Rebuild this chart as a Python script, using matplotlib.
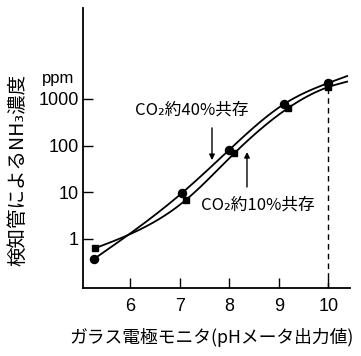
import numpy as np
import matplotlib
matplotlib.use("Agg")
import matplotlib.pyplot as plt
from matplotlib.transforms import blended_transform_factory

plt.rcParams['font.family'] = ['Noto Sans CJK JP', 'DejaVu Sans']

# Data (pH meter output vs NH3 concentration, ppm)
ph_40 = [5.27, 7.04, 8.00, 9.11, 10.00]
nh3_40 = [0.37, 9.5, 81, 780, 2200]
ph_10 = [5.29, 7.13, 8.10, 9.19, 10.00]
nh3_10 = [0.63, 6.9, 68, 640, 1800]
# curve end (line continues past last point)
curve_end_x = 10.38
curve_end_40 = 3100
curve_end_10 = 2350

xticks = [6, 7, 8, 9, 10]
yticks = [1, 10, 100, 1000]
ytick_labels = ['1', '10', '100', '1000']


def natural_spline(x, y, xs):
    x = np.asarray(x, float); y = np.asarray(y, float)
    n = len(x)
    h = np.diff(x)
    A = np.zeros((n, n)); b = np.zeros(n)
    A[0, 0] = 1; A[-1, -1] = 1
    for i in range(1, n - 1):
        A[i, i - 1] = h[i - 1]
        A[i, i] = 2 * (h[i - 1] + h[i])
        A[i, i + 1] = h[i]
        b[i] = 3 * ((y[i + 1] - y[i]) / h[i] - (y[i] - y[i - 1]) / h[i - 1])
    c = np.linalg.solve(A, b)
    out = np.empty_like(xs)
    for k, xv in enumerate(xs):
        i = min(max(np.searchsorted(x, xv) - 1, 0), n - 2)
        dx = xv - x[i]
        bi = (y[i + 1] - y[i]) / h[i] - h[i] * (2 * c[i] + c[i + 1]) / 3
        di = (c[i + 1] - c[i]) / (3 * h[i])
        out[k] = y[i] + bi * dx + c[i] * dx ** 2 + di * dx ** 3
    return out


fig = plt.figure(figsize=(3.61, 3.56), dpi=100)
ax = fig.add_axes([83 / 361, 1 - 288 / 356, 267 / 361, 280 / 356])
ax.set_yscale('log')
ax.set_xlim(5.052, 10.438)
ax.set_ylim(0.089, 89000)

for px, py, ex, ey, mk, ms in [(ph_40, nh3_40, curve_end_x, curve_end_40, 'o', 5.8),
                                (ph_10, nh3_10, curve_end_x, curve_end_10, 's', 5.0)]:
    cx = list(px) + [ex]
    cy = np.log10(list(py) + [ey])
    xs = np.linspace(cx[0], cx[-1], 300)
    ys = natural_spline(cx, cy, xs)
    ax.plot(xs, 10 ** ys, color='black', lw=1.3)
    ax.plot(px, py, linestyle='none', marker=mk, ms=ms, color='black')

# dashed line at pH 10
ax.plot([ph_40[-1], ph_40[-1]], [0.089, nh3_40[-1]], color='black', lw=1.0,
        linestyle=(0, (4, 3)))

for s in ['top', 'right']:
    ax.spines[s].set_visible(False)
for s in ['left', 'bottom']:
    ax.spines[s].set_linewidth(1.3)

ax.set_xticks(xticks)
ax.set_xticklabels([str(t) for t in xticks])
ax.set_yticks(yticks)
ax.set_yticklabels(ytick_labels)
ax.minorticks_off()
ax.tick_params(axis='both', direction='in', length=7, width=1.0, labelsize=13)
ax.tick_params(axis='x', pad=7)
ax.tick_params(axis='y', pad=3)
for lab in ax.get_xticklabels() + ax.get_yticklabels():
    lab.set_family(['Liberation Sans', 'DejaVu Sans'])

# annotations
ax.annotate('', xy=(7.654, 49), xytext=(7.654, 240),
            arrowprops=dict(arrowstyle='-|>', color='black', lw=1.0,
                            mutation_scale=8, shrinkA=0, shrinkB=0))
ax.annotate('', xy=(8.36, 73), xytext=(8.36, 13),
            arrowprops=dict(arrowstyle='-|>', color='black', lw=1.0,
                            mutation_scale=8, shrinkA=0, shrinkB=0))
ax.text(7.25, 580, 'CO₂約40%共存', ha='center', va='center', fontsize=12)
ax.text(8.58, 5.4, 'CO₂約10%共存', ha='center', va='center', fontsize=12)

tr = blended_transform_factory(ax.transAxes, ax.transData)
ax.text(-0.094, 2700, 'ppm', transform=tr, ha='center', va='center', fontsize=12,
        family=['Liberation Sans', 'DejaVu Sans'])

fig.text(18 / 361, 1 - 170 / 356, '検知管によるNH₃濃度', rotation=90,
         ha='center', va='center', fontsize=14)
fig.text(212 / 361, 1 - 337 / 356, 'ガラス電極モニタ(pHメータ出力値)',
         ha='center', va='center', fontsize=12.8)

fig.savefig('out.png', dpi=100)
